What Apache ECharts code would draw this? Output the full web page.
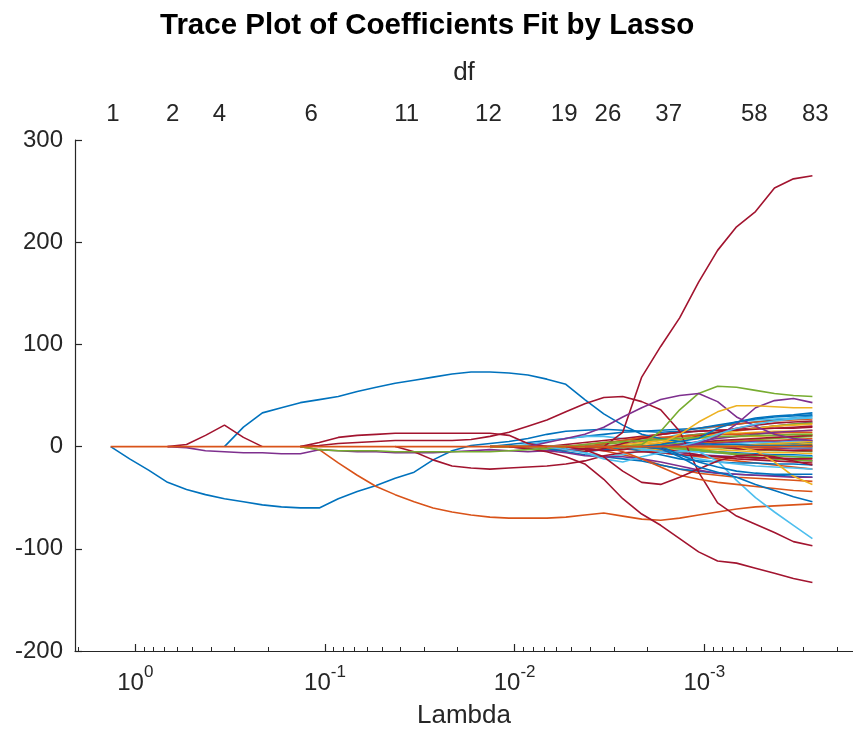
<!DOCTYPE html>
<html><head><meta charset="utf-8">
<script src="https://cdn.jsdelivr.net/npm/echarts@6/dist/echarts.min.js"></script>
<style>html,body{margin:0;padding:0;background:#fff}#c{width:853px;height:739px}</style>
</head><body><div id="c"></div>
<script>
// ---- axis data ----
const lambdaLog = [0.13,0.03,-0.07,-0.17,-0.27,-0.37,-0.47,-0.57,-0.67,-0.77,-0.87,-0.97,-1.07,-1.17,-1.27,-1.37,-1.47,-1.57,-1.67,-1.77,-1.87,-1.97,-2.07,-2.17,-2.27,-2.37,-2.47,-2.57,-2.67,-2.77,-2.87,-2.97,-3.07,-3.17,-3.27,-3.37,-3.47,-3.57];
const xTickLog = [0,-1,-2,-3];
const dfLabels = ['1','2','4','6','11','12','19','26','37','58','83'];
const dfLog = [0.118,-0.197,-0.444,-0.927,-1.431,-1.862,-2.261,-2.492,-2.812,-3.264,-3.585];
const yMin = -200, yMax = 300, yStep = 100;

// ---- coefficient paths (start index into lambdaLog, values) ----
const pathBlueNeg   = [0,-12,-23,-35,-42,-47,-51,-54,-57,-59,-60,-60,-51,-44,-38,-31,-25,-13,-4,1,3,5,8,12,15,16,17,16,15,14,15,18,21,24,27,29,30,31];
const pathBluePos   = [0,19,33,38,43,46,49,54,58,62,65,68,71,73,73,72,70,66,61,46,32,21,12,8,5,3,2,2,1,1,1,0];
const pathRedBump   = [0,2,11,21,9,0];
const pathPurpleLow = [0,-1,-4,-5,-6,-6,-7,-7,-3,-4,-5,-5,-6,-6,-6,-5,-4,-3,-4,-5,-4,-6,-9,-10,-10,-12,-15,-19,-23,-26,-27,-28,-29,-30,-30];
const pathOrangeNeg = [0,-3,-16,-28,-39,-47,-54,-60,-64,-67,-69,-70,-70,-70,-69,-67,-65,-68,-71,-72,-70,-67,-64,-61,-59,-58,-57,-56];
const pathRedTop    = [0,0,14,68,98,126,161,192,215,230,253,262,265];
const pathRedBottom = [0,-2,-5,-10,-17,-32,-51,-66,-77,-90,-103,-112,-114,-119,-124,-129,-133];
const pathRedArc    = [0,1,3,4,5,6,6,6,6,7,10,14,20,26,34,42,48,49,44,36,15,-25,-55,-68,-76,-84,-93,-97];
const pathRedFlat   = [0,4,9,11,12,13,13,13,13,13,13,11,3,0,-3,-5,-2,3,8,12,14,15,16,16,17,18,19,20];
const pathRedTrough = [0,-5,-13,-19,-21,-22,-21,-20,-19,-17,-14,-9,-6,-5,-6,-8,-9,-10,-10,-11,-11,-12,-12];
const pathGreenLow  = [0,-3,-4,-4,-4,-5,-5,-5,-5,-5,-5,-4,-3,-2,0,2,4,5,6,7,8,9,10,10,11,11,12,12];
const pathLightBlueDown = [0,-3,-6,-12,-15,-10,-6,-5,-5,-14,-33,-50,-64,-77,-90];
const pathGreenHigh = [0,2,15,36,52,59,58,55,52,50,49];
const pathPurpleArc = [0,4,8,12,19,29,38,46,50,52,44,29,20,12,8,6];
const pathPurpleEnd = [0,3,10,22,38,45,47,43];
const pathYellowUp  = [0,3,12,24,34,40,40,39,38,38];
const pathYellowDown = [0,-4,-15,-29,-37];
const pathOrangeMid = [0,-5,-12,-20,-28,-32,-35,-37,-39,-41,-43,-44];
const pathRedDip    = [0,-3,-10,-24,-35,-37,-30,-22,-14,-9,-8,-10,-14,-18];
const pathBlueDown  = [0,-2,-10,-20,-25,-30,-37,-43,-49,-54];
const pathBlueMid   = [0,-8,-15,-20,-24,-26,-27,-27,-27];
const pathBlueUp    = [0,2,5,8,18,24,28,30,31,33];
const pathLightBlueUp = [0,5,12,18,22,25,27,28];
const pathZero      = [0,0,0,0,0,0,0,0,0,0,0,0,0,0,0,0,0,0,0,0,0,0,0,0,0,0,0,0,0,0,0,0,0,0,0,0,0,0];

// small coefficients that enter late (values from lambdaLog index 20 on)
const bundleStart = 20;
const bundleValues = [
 [0,2,4,6,8,10,12,14,15,16,17,18,20,22,24,26,28,30],
 [0,0,2,5,8,10,10,8,6,8,12,16,20,24,26,27,28,29],
 [0,0,0,-2,-4,-3,-2,0,3,6,8,10,12,13,14,15,15,16],
 [0,0,0,0,0,-2,-4,-8,-12,-18,-22,-26,-28,-30,-31,-32,-33,-34],
 [0,0,-2,-4,-3,-2,0,2,5,8,10,12,14,16,18,20,22,24],
 [0,0,0,0,0,0,2,4,6,8,10,12,14,16,18,20,22,23],
 [0,0,0,0,2,4,6,8,10,12,14,15,16,17,18,18,18,19],
 [0,0,0,-2,-5,-8,-10,-12,-14,-18,-22,-24,-26,-27,-28,-28,-29,-30],
 [0,0,0,0,0,0,0,-2,-4,-6,-8,-10,-12,-14,-16,-18,-20,-22],
 [0,0,0,0,0,0,0,2,4,6,7,8,9,10,10,11,12,12],
 [0,0,0,0,0,0,0,0,-2,-4,-6,-8,-9,-10,-11,-12,-13,-14],
 [0,0,0,0,0,0,0,0,0,2,3,4,5,6,7,8,9,10],
 [0,0,0,0,0,0,0,0,-2,-3,-4,-5,-6,-7,-8,-9,-10,-10],
 [0,0,0,0,0,0,0,0,0,0,2,4,6,7,8,9,10,11],
 [0,0,0,0,0,0,0,0,0,-1,-2,-4,-5,-6,-7,-8,-8,-9],
 [0,0,0,0,0,0,0,0,0,0,1,3,4,5,6,6,7,8],
 [0,0,0,0,0,0,0,0,0,0,0,-2,-3,-4,-5,-6,-6,-7],
 [0,0,0,0,0,0,0,0,0,0,0,2,3,4,5,5,6,6],
 [0,0,0,0,0,0,0,0,0,0,0,0,-1,-2,-3,-4,-4,-5],
 [0,0,0,0,0,0,0,0,0,0,0,0,2,3,4,4,5,5],
 [0,0,0,0,0,0,0,0,0,0,0,0,0,-2,-3,-3,-4,-4],
 [0,0,0,0,0,0,0,0,0,0,0,0,0,1,2,3,3,4],
 [0,0,0,0,0,0,0,0,0,0,0,0,0,0,-1,-2,-2,-3],
 [0,0,0,0,0,0,0,0,0,0,0,0,0,0,1,2,2,3],
 [0,0,0,0,0,0,0,0,0,0,0,0,0,0,0,-1,-2,-2],
 [0,0,0,0,0,0,0,0,0,0,0,0,0,0,0,1,1,2],
 [0,0,0,0,0,0,0,0,0,0,0,0,0,0,0,0,-1,-1],
 [0,0,0,0,0,0,0,0,0,0,0,0,0,0,0,0,1,1],
 [0,0,0,-1,-3,-5,-3,-1,-4,-8,-12,-14,-15,-16,-16,-17,-17,-18],
 [0,0,0,0,-2,-6,-10,-8,-4,-2,-3,-5,-6,-7,-8,-9,-9,-10],
 [0,0,0,0,0,2,4,6,8,9,10,11,12,12,13,13,14,14],
 [0,0,0,0,0,0,0,-1,-2,-3,-2,-1,0,1,2,3,4,5],
 [0,0,0,0,0,0,0,0,0,-2,-5,-8,-10,-12,-13,-14,-15,-16],
 [0,0,0,0,0,0,0,0,0,0,-1,-3,-5,-7,-8,-9,-10,-11],
 [0,0,0,0,0,0,0,0,0,0,2,5,8,10,12,14,15,16],
 [0,0,0,0,0,0,3,6,9,12,15,18,20,22,24,25,26,27],
 [0,0,0,0,0,-2,-4,-3,0,3,6,10,14,18,21,23,24,25],
 [0,0,0,0,0,0,0,0,-2,-5,-8,-12,-15,-17,-19,-20,-21,-22],
 [0,0,0,0,0,0,0,0,2,4,6,9,12,15,18,20,21,22],
 [0,0,0,0,0,0,0,0,0,0,-2,-4,-6,-8,-10,-12,-13,-14]
];
const bundleColors = ['blue','lightBlue','yellow','orange','purple','green','darkRed','blue','orange','yellow','purple','green','lightBlue','darkRed','blue','orange','yellow','purple','green','lightBlue','darkRed','blue','orange','yellow','purple','green','lightBlue','darkRed','blue','lightBlue','orange','yellow','darkRed','green','purple','orange','darkRed','lightBlue','yellow','green'];

// ---- styling ----
const COL = {blue:'#0072BD', orange:'#D95319', yellow:'#EDB120', purple:'#7E2F8E', green:'#77AC30', lightBlue:'#4DBEEE', darkRed:'#A2142F'};
const FONT = 'Liberation Sans, Arial, Helvetica, sans-serif';
const TXT = '#262626';
const X_LEFT = 0.318, X_RIGHT = -3.784;

const mainPaths = [
  [pathBlueNeg, 0, 'blue'], [pathBluePos, 6, 'blue'], [pathRedBump, 3, 'darkRed'],
  [pathPurpleLow, 3, 'purple'], [pathOrangeNeg, 10, 'orange'], [pathRedTop, 25, 'darkRed'],
  [pathRedBottom, 21, 'darkRed'], [pathRedArc, 10, 'darkRed'], [pathRedFlat, 10, 'darkRed'],
  [pathRedTrough, 15, 'darkRed'], [pathGreenLow, 10, 'green'], [pathLightBlueDown, 23, 'lightBlue'],
  [pathGreenHigh, 27, 'green'], [pathPurpleArc, 22, 'purple'], [pathPurpleEnd, 30, 'purple'],
  [pathYellowUp, 28, 'yellow'], [pathYellowDown, 33, 'yellow'], [pathOrangeMid, 26, 'orange'],
  [pathRedDip, 24, 'darkRed'], [pathBlueDown, 28, 'blue'], [pathBlueMid, 29, 'blue'],
  [pathBlueUp, 28, 'blue'], [pathLightBlueUp, 30, 'lightBlue']
];

function pairs(values, start){ return values.map((v,k)=>[lambdaLog[start+k], v]); }
function lineSeries(values, start, color){
  return {type:'line', xAxisIndex:0, yAxisIndex:0, data:pairs(values,start), showSymbol:false, symbol:'none',
          lineStyle:{color:COL[color], width:1.6}, itemStyle:{color:COL[color]}, silent:true, animation:false, z:2};
}
const series = [];
bundleValues.forEach((vals,i)=>series.push(lineSeries(vals, bundleStart, bundleColors[i])));
mainPaths.forEach(p=>series.push(lineSeries(p[0], p[1], p[2])));
series.push(lineSeries(pathZero, 0, 'orange'));

const minorLog = [];
[0,-1,-2,-3,-4].forEach(n=>{ for(let k=2;k<=9;k++){ const v=n+Math.log10(k); if(v<=X_LEFT && v>=X_RIGHT) minorLog.push(v);} });

const chart = echarts.init(document.getElementById('c'), null, {renderer:'canvas'});
chart.setOption({
  animation:false,
  backgroundColor:'#fff',
  title:{text:'Trace Plot of Coefficients Fit by Lasso', left:155, top:6,
         textStyle:{fontFamily:FONT, fontSize:29.5, fontWeight:'bold', color:'#000'}},
  grid:{left:75, top:140, width:781, height:511, containLabel:false},
  xAxis:[
    {type:'value', position:'bottom', min:X_RIGHT, max:X_LEFT, inverse:true,
     name:'Lambda', nameLocation:'middle', nameGap:52,
     nameTextStyle:{fontFamily:FONT, fontSize:26, color:TXT, verticalAlign:'top'},
     axisLine:{show:true, onZero:false, lineStyle:{color:TXT, width:1.2}},
     axisTick:{show:true, inside:true, length:7, customValues:xTickLog, lineStyle:{color:TXT, width:1.2}},
     axisLabel:{show:true, customValues:xTickLog, margin:13,
       formatter:v=>'{b|10}{s|'+Math.round(v)+'}',
       rich:{b:{fontFamily:FONT, fontSize:24, color:TXT, verticalAlign:'bottom'},
             s:{fontFamily:FONT, fontSize:17, color:TXT, verticalAlign:'bottom', padding:[0,0,14,0]}}},
     splitLine:{show:false}},
    {type:'value', position:'top', min:X_RIGHT, max:X_LEFT, inverse:true,
     name:'df', nameLocation:'middle', nameGap:54,
     nameTextStyle:{fontFamily:FONT, fontSize:26, color:TXT},
     axisLine:{show:false}, axisTick:{show:false},
     axisLabel:{show:true, customValues:dfLog, margin:14, fontFamily:FONT, fontSize:24, color:TXT,
       formatter:v=>{let bi=0,bd=1e9; dfLog.forEach((d,i)=>{const dd=Math.abs(d-v); if(dd<bd){bd=dd;bi=i;}}); return dfLabels[bi];}},
     splitLine:{show:false}},
    {type:'value', position:'bottom', min:X_RIGHT, max:X_LEFT, inverse:true,
     axisLine:{show:false}, axisLabel:{show:false},
     axisTick:{show:true, inside:true, length:4, customValues:minorLog, lineStyle:{color:TXT, width:1}},
     splitLine:{show:false}}
  ],
  yAxis:{type:'value', min:yMin, max:yMax, interval:yStep,
     axisLine:{show:true, onZero:false, lineStyle:{color:TXT, width:1.2}},
     axisTick:{show:true, inside:true, length:7, lineStyle:{color:TXT, width:1.2}},
     axisLabel:{margin:12, fontFamily:FONT, fontSize:24, color:TXT},
     splitLine:{show:false}},
  series:series
});
</script></body></html>
